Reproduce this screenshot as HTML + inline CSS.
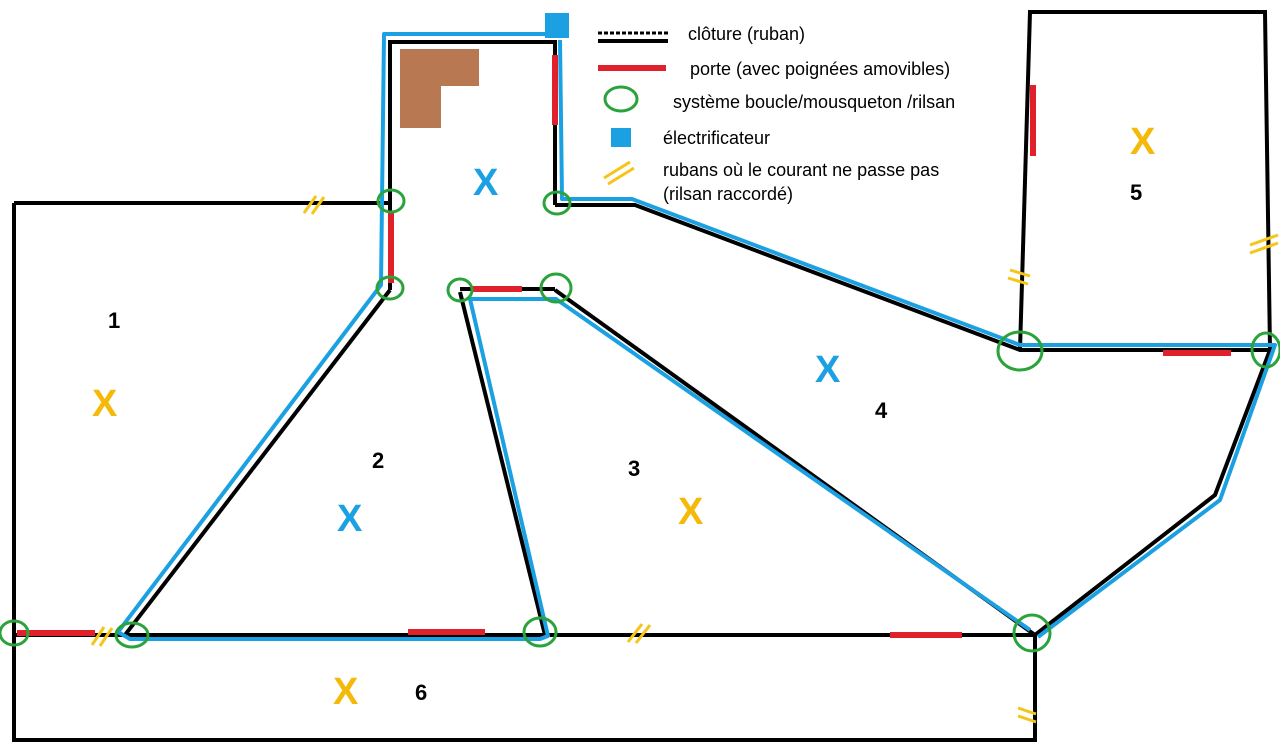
<!DOCTYPE html>
<html><head><meta charset="utf-8"><style>
body{margin:0;background:#fff;width:1280px;height:752px;overflow:hidden}
svg{display:block}
text{font-family:"Liberation Sans",sans-serif}
</style></head><body>
<svg width="1280" height="752" viewBox="0 0 1280 752" xmlns="http://www.w3.org/2000/svg">
<rect width="1280" height="752" fill="#fff"/>
<!-- brown -->
<path d="M400 49 H479 V86 H441 V128 H400 Z" fill="#b87852"/>
<g stroke="#000" stroke-width="4" fill="none" stroke-linejoin="miter">
<path d="M14 203 H390"/>
<path d="M14 203 V740 H1035 V635"/>
<path d="M14 635 H1035"/>
<path d="M390 290 V42 H555 V205"/>
<path d="M555 205 H635 L1020 350 H1270"/>
<path d="M1020 350 L1030 12 H1265 L1270 350 L1215 495 L1035 635"/>
<path d="M555 290 L1035 635"/>
<path d="M460 292 L545 635"/>
<path d="M390 290 L125 635"/>
<path d="M460 289 H555"/>
</g>
<!-- blue -->
<g stroke="#1ba1e2" stroke-width="4" fill="none" stroke-linejoin="round">
<path d="M550 34 H384 L381 285 L118 632 L130 639 H540 L548 636 L470 299 H556 L1030 630"/>
<path d="M1038 637 L1220 500 L1275 345 H1020 L632 199 H562 L560 40"/>
</g>
<rect x="545" y="13" width="24" height="25" fill="#1ba1e2"/>
<!-- red doors -->
<g stroke="#e0202a" stroke-width="6" stroke-linecap="butt">
<path d="M17 633 H95"/><path d="M408 632 H485"/><path d="M890 635 H962"/>
<path d="M1163 353 H1231"/><path d="M1033 85 V156"/><path d="M555 55 V125"/>
<path d="M391 213 V283"/><path d="M472 289 H522"/>
</g>
<!-- yellow hatches -->
<g stroke="#f5c518" stroke-width="3">
<path d="M304 213 L316 196 M312 214 L324 197"/>
<path d="M92 645 L104 627 M100 646 L112 628"/>
<path d="M628 642 L642 624 M636 643 L650 625"/>
<path d="M1010 270 L1030 276 M1008 278 L1028 284"/>
<path d="M1018 708 L1036 714 M1018 716 L1036 722"/>
<path d="M1250 245 L1278 235 M1250 253 L1278 243"/>
</g>
<!-- green circles -->
<g stroke="#2aa33a" stroke-width="3" fill="none">
<ellipse cx="14" cy="633" rx="14" ry="12"/><ellipse cx="132" cy="635" rx="16" ry="12"/>
<ellipse cx="540" cy="632" rx="16" ry="14"/><ellipse cx="1032" cy="633" rx="18" ry="18"/>
<ellipse cx="1020" cy="351" rx="22" ry="19"/><ellipse cx="1266" cy="350" rx="14" ry="17"/>
<ellipse cx="556" cy="288" rx="15" ry="14"/><ellipse cx="460" cy="290" rx="12" ry="11"/>
<ellipse cx="390" cy="288" rx="13" ry="11"/><ellipse cx="391" cy="201" rx="13" ry="11"/>
<ellipse cx="557" cy="203" rx="13" ry="11"/>
</g>
<!-- legend -->
<path d="M598 33 H668" stroke="#000" stroke-width="3" stroke-dasharray="4 2"/>
<path d="M598 41 H668" stroke="#000" stroke-width="4"/>
<path d="M598 68 H666" stroke="#e0202a" stroke-width="6"/>
<ellipse cx="621" cy="99" rx="16" ry="12" stroke="#2aa33a" stroke-width="3" fill="none"/>
<rect x="611" y="128" width="20" height="19" fill="#1ba1e2"/>
<path d="M604 178 L630 162 M608 184 L634 168" stroke="#f5c518" stroke-width="3"/>
<g font-size="18" fill="#000">
<text x="688" y="40">clôture (ruban)</text>
<text x="690" y="75">porte (avec poignées amovibles)</text>
<text x="673" y="108">système boucle/mousqueton /rilsan</text>
<text x="663" y="144">électrificateur</text>
<text x="663" y="176">rubans où le courant ne passe pas</text>
<text x="663" y="200">(rilsan raccordé)</text>
</g>
<!-- numbers -->
<g font-size="22" font-weight="bold" fill="#000">
<text x="108" y="328">1</text><text x="372" y="468">2</text><text x="628" y="476">3</text>
<text x="875" y="418">4</text><text x="1130" y="200">5</text><text x="415" y="700">6</text>
</g>
<g font-size="38" font-weight="bold">
<text x="473" y="195" fill="#1ba1e2">X</text>
<text x="337" y="531" fill="#1ba1e2">X</text>
<text x="815" y="382" fill="#1ba1e2">X</text>
<text x="92" y="416" fill="#f5b90a">X</text>
<text x="678" y="524" fill="#f5b90a">X</text>
<text x="1130" y="154" fill="#f5b90a">X</text>
<text x="333" y="704" fill="#f5b90a">X</text>
</g>
</svg>
</body></html>
